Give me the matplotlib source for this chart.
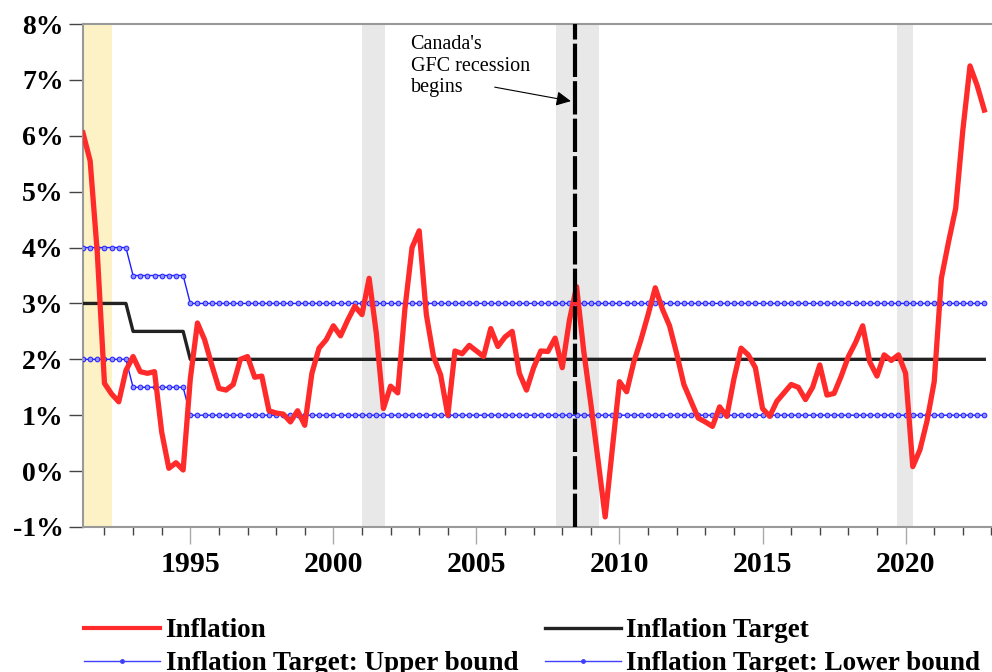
import numpy as np
import matplotlib
matplotlib.use("Agg")
import matplotlib.pyplot as plt
from matplotlib.lines import Line2D

# quarterly CPI inflation (y/y %), first obs 1991Q2
start = 1991.25
inflation = [
    6.05, 5.55, 3.90,
    1.57, 1.38, 1.24, 1.80,
    2.05, 1.78, 1.75, 1.78,
    0.70, 0.05, 0.15, 0.02,
    1.65, 2.65, 2.35, 1.90,
    1.48, 1.45, 1.55, 2.00,
    2.05, 1.68, 1.70, 1.08,
    1.04, 1.02, 0.88, 1.08,
    0.82, 1.75, 2.20, 2.35,
    2.60, 2.42, 2.70, 2.95,
    2.80, 3.45, 2.47, 1.12,
    1.52, 1.40, 2.90, 4.00,
    4.30, 2.80, 2.05, 1.72,
    1.00, 2.15, 2.10, 2.25,
    2.15, 2.05, 2.55, 2.23,
    2.40, 2.50, 1.75, 1.45,
    1.85, 2.15, 2.14, 2.38,
    1.85, 2.70, 3.30, 2.15,
    1.20, 0.20, -0.82, 0.40,
    1.60, 1.42, 1.95, 2.35,
    2.80, 3.28, 2.90, 2.60,
    2.10, 1.55, 1.25, 0.95,
    0.88, 0.80, 1.15, 0.98,
    1.65, 2.20, 2.08, 1.85,
    1.12, 0.98, 1.25, 1.40,
    1.55, 1.50, 1.28, 1.50,
    1.90, 1.36, 1.39, 1.70,
    2.05, 2.30, 2.60, 1.95,
    1.70, 2.08, 1.98, 2.08,
    1.75, 0.08, 0.38, 0.90,
    1.60, 3.45, 4.10, 4.70,
    6.10, 7.25, 6.90, 6.46,
]

# inflation-control target regimes: (first quarter, target, lower, upper)
target_start = [1991.25, 1993.0, 1995.0]
target_mid = [3.0, 2.5, 2.0]
target_low = [2.0, 1.5, 1.0]
target_high = [4.0, 3.5, 3.0]

recessions = [(2001.0, 2001.8), (2007.77, 2009.3), (2019.7, 2020.26)]
early_recession = (1991.25, 1992.28)
gfc_start = 2008.45

yticks = list(range(-1, 9))
xmajor = [1995, 2000, 2005, 2010, 2015, 2020]
xminor = list(range(1992, 2024))

t = start + 0.25 * np.arange(len(inflation))
idx = np.searchsorted(target_start, t, side="right") - 1
mid = np.array(target_mid)[idx]
low = np.array(target_low)[idx]
high = np.array(target_high)[idx]

serif = ["Liberation Serif", "DejaVu Serif"]
plt.rcParams["font.family"] = serif

fig = plt.figure(figsize=(9.92, 6.72), dpi=100)
ax = fig.add_axes([83 / 992, 1 - 527 / 672, 915.6 / 992, 503 / 672])

ax.axvspan(*early_recession, color="#fcf2c6", lw=0, zorder=0)
for a, b in recessions:
    ax.axvspan(a, b, color="#e8e8e8", lw=0, zorder=0)

blue_kw = dict(color="#1f1fff", lw=1.0, marker="o", ms=3.4, mfc="#9090ff",
               mec="#1f1fff", mew=0.7)
ax.plot(t, high, zorder=3, **blue_kw)
ax.plot(t, low, zorder=3, **blue_kw)
ax.plot(t, mid, color="#222222", lw=2.4, zorder=3)
ax.plot(t, inflation, color="#ff2a2a", lw=3.8, zorder=4, solid_joinstyle="round")

ax.axvline(gfc_start, color="black", lw=3, ls=(0, (8, 1)), zorder=5)
ax.text(2002.7, 7.8, "Canada's\nGFC recession\nbegins", fontsize=14.5, va="top",
        ha="left", linespacing=1.18)
ax.annotate("", xy=(2008.3, 6.62), xytext=(2005.64, 6.87),
            arrowprops=dict(arrowstyle="-|>", color="black", lw=0.8,
                            mutation_scale=22, shrinkA=0, shrinkB=0))

ax.set_xlim(1991.25, 2023.25)
ax.set_ylim(-1, 8)
ax.set_yticks(yticks)
ax.set_yticklabels([f"{v}%" for v in yticks], fontsize=20, fontweight="bold")
ax.set_xticks(xmajor)
ax.set_xticks(xminor, minor=True)
ax.set_xticklabels([str(v) for v in xmajor], fontsize=21.5, fontweight="bold")
ax.tick_params(axis="y", direction="out", length=10, width=1, color="#444444", pad=4)
ax.tick_params(axis="x", which="major", direction="out", length=12, width=1,
               color="#aaaaaa", pad=5)
ax.tick_params(axis="x", which="minor", direction="out", length=6, width=1,
               color="#444444")
for side in ["top", "left", "bottom", "right"]:
    ax.spines[side].set_color("#999999")
    ax.spines[side].set_linewidth(1.5)

handles = [
    Line2D([], [], color="#ff2a2a", lw=3.0),
    Line2D([], [], color="#4040ff", lw=1.0, marker="o", ms=2.5, markevery=[1]),
    Line2D([], [], color="#222222", lw=2.4),
    Line2D([], [], color="#4040ff", lw=1.0, marker="o", ms=2.5, markevery=[1]),
]
labels = ["Inflation", "Inflation Target: Upper bound",
          "Inflation Target", "Inflation Target: Lower bound"]
fig.legend(handles, labels, loc="upper left", bbox_to_anchor=(60 / 992, 1 - 594 / 672),
           ncol=2, frameon=False, prop=dict(family=serif, weight="bold", size=19.5),
           handlelength=2.8, handletextpad=0.2, columnspacing=1.0, labelspacing=0.3)

fig.savefig("out.png", dpi=100)
